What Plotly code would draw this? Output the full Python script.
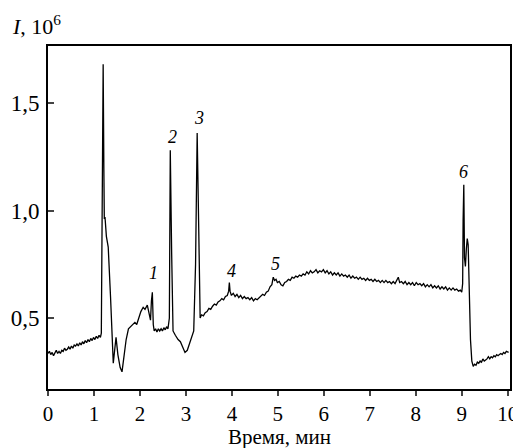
import plotly.graph_objects as go

# chromatogram, split into segments (time in min, I in 10^6)
t_start = [0.00, 0.03, 0.06, 0.09, 0.12, 0.15, 0.18, 0.21, 0.24, 0.27, 0.30, 0.33, 0.36, 0.39,
           0.42, 0.45, 0.48, 0.51, 0.54, 0.57, 0.60, 0.63, 0.66, 0.69, 0.72, 0.75, 0.78, 0.81,
           0.84, 0.87, 0.90, 0.93, 0.96, 0.99, 1.02, 1.05, 1.08, 1.11, 1.14]
i_start = [0.335, 0.345, 0.33, 0.34, 0.325, 0.34, 0.35, 0.335, 0.345, 0.335, 0.35, 0.345, 0.36, 0.35,
           0.355, 0.365, 0.355, 0.37, 0.36, 0.375, 0.37, 0.38, 0.37, 0.385, 0.375, 0.39, 0.38, 0.395,
           0.385, 0.40, 0.39, 0.405, 0.395, 0.41, 0.40, 0.415, 0.405, 0.42, 0.41]

t_peaks = [1.16, 1.18, 1.20, 1.215, 1.225, 1.24, 1.27, 1.31, 1.36, 1.42, 1.45, 1.48, 1.52, 1.57,
           1.61, 1.65, 1.70, 1.75, 1.79, 1.84, 1.89, 1.93, 1.97, 2.02, 2.07, 2.11, 2.16, 2.20,
           2.23, 2.25, 2.27, 2.29, 2.31, 2.34, 2.37, 2.40, 2.43, 2.46, 2.49, 2.52, 2.55, 2.58,
           2.61, 2.64, 2.66, 2.69, 2.72, 2.77, 2.83, 2.88, 2.93, 2.98, 3.03, 3.08, 3.13, 3.17,
           3.21, 3.245, 3.28]
i_peaks = [0.43, 1.0, 1.68, 1.2, 0.96, 0.97, 0.88, 0.83, 0.6, 0.29, 0.35, 0.41, 0.33, 0.27,
           0.25, 0.33, 0.40, 0.45, 0.46, 0.47, 0.48, 0.47, 0.50, 0.53, 0.55, 0.54, 0.56, 0.51,
           0.49, 0.58, 0.62, 0.47, 0.44, 0.45, 0.435, 0.45, 0.44, 0.45, 0.44, 0.455, 0.445, 0.46,
           0.45, 0.50, 1.28, 0.80, 0.44, 0.42, 0.40, 0.39, 0.36, 0.34, 0.35, 0.38, 0.41, 0.44,
           0.75, 1.36, 0.9]

t_plateau = [3.31, 3.34, 3.38, 3.42, 3.46, 3.50, 3.54, 3.58, 3.62, 3.66, 3.70, 3.74, 3.78, 3.82,
             3.86, 3.90, 3.93, 3.945, 3.96, 3.99, 4.03, 4.07, 4.11, 4.15, 4.19, 4.23, 4.27, 4.31,
             4.35, 4.39, 4.43, 4.47, 4.51, 4.55, 4.59, 4.63, 4.67, 4.71, 4.75, 4.79, 4.83, 4.87,
             4.90, 4.93, 4.96, 4.99, 5.03, 5.07, 5.11, 5.15, 5.19, 5.23, 5.27, 5.31, 5.35, 5.39,
             5.43, 5.47, 5.51, 5.55, 5.59, 5.63, 5.67, 5.71, 5.75, 5.79, 5.83, 5.87, 5.91, 5.95,
             5.99, 6.03, 6.07, 6.11, 6.15, 6.19, 6.23, 6.27, 6.31, 6.35, 6.39, 6.43, 6.47, 6.51,
             6.55, 6.59, 6.63, 6.67, 6.71, 6.75, 6.79, 6.83, 6.87, 6.91, 6.95, 6.99, 7.03, 7.07,
             7.11, 7.15, 7.19, 7.23, 7.27, 7.31, 7.35, 7.39, 7.43, 7.47, 7.51, 7.55, 7.59, 7.62,
             7.65, 7.69, 7.73, 7.77, 7.81, 7.85, 7.89, 7.93, 7.97, 8.01, 8.05, 8.09, 8.13, 8.17,
             8.21, 8.25, 8.29, 8.33, 8.37, 8.41, 8.45, 8.49, 8.53, 8.57, 8.61, 8.65, 8.69, 8.73,
             8.77, 8.81, 8.85, 8.89, 8.93, 8.97, 9.00]
i_plateau = [0.50, 0.515, 0.51, 0.525, 0.53, 0.545, 0.54, 0.555, 0.565, 0.56, 0.575, 0.58, 0.59, 0.585,
             0.60, 0.605, 0.625, 0.665, 0.625, 0.605, 0.615, 0.60, 0.61, 0.595, 0.605, 0.59, 0.60, 0.59,
             0.595, 0.585, 0.595, 0.58, 0.59, 0.585, 0.595, 0.60, 0.61, 0.605, 0.62, 0.625, 0.645, 0.655,
             0.69, 0.675, 0.68, 0.665, 0.67, 0.655, 0.65, 0.665, 0.67, 0.68, 0.675, 0.69, 0.685, 0.695,
             0.69, 0.70, 0.695, 0.705, 0.70, 0.715, 0.705, 0.72, 0.71, 0.715, 0.725, 0.71, 0.72, 0.715,
             0.725, 0.71, 0.72, 0.705, 0.715, 0.70, 0.71, 0.70, 0.71, 0.695, 0.705, 0.695, 0.70, 0.69,
             0.70, 0.685, 0.695, 0.685, 0.69, 0.68, 0.69, 0.68, 0.685, 0.675, 0.685, 0.675, 0.68, 0.67,
             0.68, 0.67, 0.675, 0.665, 0.675, 0.665, 0.675, 0.665, 0.67, 0.66, 0.67, 0.66, 0.675, 0.69,
             0.665, 0.67, 0.66, 0.67, 0.655, 0.665, 0.655, 0.665, 0.65, 0.665, 0.655, 0.66, 0.65, 0.66,
             0.645, 0.655, 0.645, 0.655, 0.64, 0.65, 0.64, 0.65, 0.635, 0.645, 0.635, 0.645, 0.63, 0.64,
             0.63, 0.64, 0.63, 0.635, 0.625, 0.63, 0.62]

t_end = [9.02, 9.03, 9.045, 9.06, 9.08, 9.10, 9.12, 9.14, 9.16, 9.19, 9.22, 9.25, 9.28, 9.31,
         9.34, 9.37, 9.40, 9.43, 9.46, 9.49, 9.52, 9.55, 9.58, 9.61, 9.64, 9.67, 9.70, 9.73,
         9.76, 9.79, 9.82, 9.85, 9.88, 9.91, 9.94, 9.97, 10.02]
i_end = [0.66, 0.95, 1.12, 0.78, 0.74, 0.82, 0.87, 0.84, 0.60, 0.40, 0.30, 0.275, 0.285, 0.28,
         0.295, 0.29, 0.30, 0.295, 0.31, 0.30, 0.305, 0.31, 0.32, 0.31, 0.32, 0.315, 0.325, 0.32,
         0.33, 0.325, 0.33, 0.335, 0.33, 0.34, 0.335, 0.345, 0.34]

peak_labels = ["1", "2", "3", "4", "5", "6"]
peak_x = [2.29, 2.70, 3.29, 4.00, 4.95, 9.04]
peak_y = [0.71, 1.34, 1.43, 0.72, 0.75, 1.18]

x_ticks = list(range(11))
y_ticks = [0.5, 1.0, 1.5]
y_ticktext = ["0,5", "1,0", "1,5"]

serif = "Liberation Serif, Times New Roman, serif"

t = t_start + t_peaks + t_plateau + t_end
intensity = i_start + i_peaks + i_plateau + i_end

fig = go.Figure()
fig.add_trace(go.Scatter(x=t, y=intensity, mode="lines",
                         line=dict(color="black", width=1.3), hoverinfo="skip"))

for lab, px_, py_ in zip(peak_labels, peak_x, peak_y):
    fig.add_annotation(x=px_, y=py_, text=f"<i>{lab}</i>", showarrow=False,
                       font=dict(family=serif, size=18, color="black"))

# axis titles as annotations so the margins stay fixed
fig.add_annotation(xref="paper", yref="paper", x=-0.083, y=1.062, xanchor="left", yanchor="middle",
                   text="<i>I</i>, 10<sup>6</sup>", showarrow=False,
                   font=dict(family=serif, size=22, color="black"))
fig.add_annotation(xref="paper", yref="paper", x=0.5, y=-0.141, xanchor="center", yanchor="middle",
                   text="Время, мин", showarrow=False,
                   font=dict(family=serif, size=21, color="black"))

# the page puts the figure 8px in from the top-left, so margins are shifted by that much
fig.update_layout(
    width=521, height=448,
    margin=dict(l=40, r=19, t=38, b=67),
    paper_bgcolor="white", plot_bgcolor="white",
    showlegend=False,
    font=dict(family=serif, size=22, color="black"),
)
fig.update_xaxes(range=[0, 10.05], tickvals=x_ticks, ticks="outside", ticklen=5,
                 tickwidth=1.5, showline=True, linewidth=2, linecolor="black", mirror=True,
                 showgrid=False, zeroline=False, automargin=False,
                 tickfont=dict(family=serif, size=21))
fig.update_yaxes(range=[0.17, 1.765], tickvals=y_ticks, ticktext=y_ticktext,
                 ticks="inside", ticklen=6, tickwidth=1.5, showline=True, linewidth=2,
                 linecolor="black", mirror=True, showgrid=False, zeroline=False, automargin=False,
                 ticklabelstandoff=2, tickfont=dict(family=serif, size=23))

fig.write_html("out.html")
